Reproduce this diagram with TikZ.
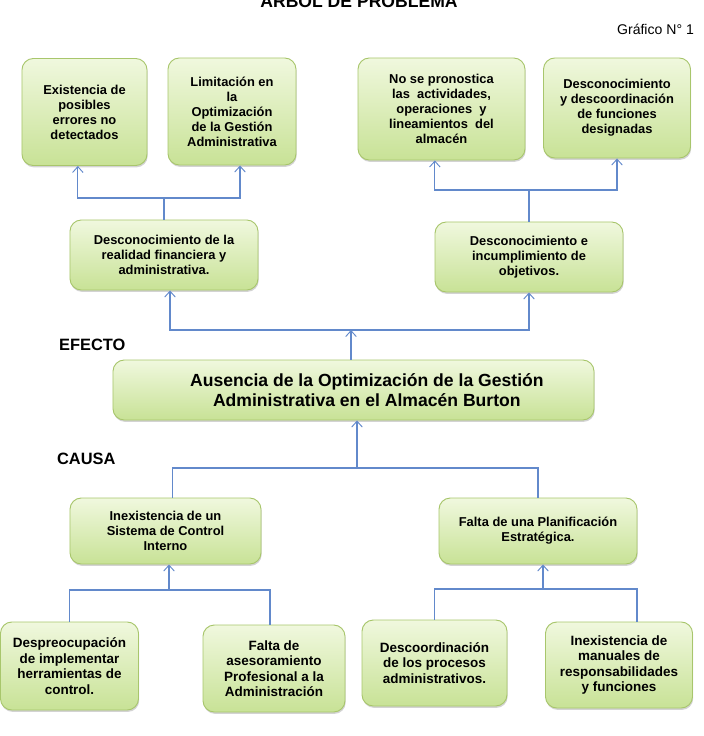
\documentclass[tikz,border=0pt]{standalone}
\usepackage{fontspec}
\setmainfont{Liberation Sans}
\definecolor{leafpale}{RGB}{240,248,222}
\definecolor{leafdeep}{RGB}{200,226,150}
\definecolor{leafedge}{RGB}{168,198,108}
\definecolor{linkblue}{RGB}{98,137,203}
\usetikzlibrary{arrows.meta, positioning, shadows}

\begin{document}
\begin{tikzpicture}[
  x=0.03cm, y=-0.03cm,
  box/.style={rectangle, rounded corners=0.34cm, align=center, draw=leafedge,
              line width=0.8pt, top color=leafpale, bottom color=leafdeep,
              drop shadow={shadow xshift=0.6pt, shadow yshift=-1.6pt, opacity=0.35},
              font=\fontsize{11}{12.8}\selectfont\bfseries, inner sep=2pt},
  rootbox/.style={box, font=\fontsize{11.5}{13.2}\selectfont\bfseries},
  link/.style={draw=linkblue, line width=0.9pt},
  arrow/.style={link, -{Straight Barb[length=5pt, width=9pt, line width=0.8pt]}},
  tag/.style={font=\fontsize{14}{16}\selectfont\bfseries, anchor=base west}
]
  \useasboundingbox (0,0) rectangle (703,736);

  % Title and figure number
  \node[font=\fontsize{15}{17}\selectfont\bfseries, anchor=base] (title)
    at (359,8) {ÁRBOL DE PROBLEMA};
  \node[font=\fontsize{12}{14}\selectfont, anchor=base east] (fig)
    at (698,35) {Gráfico N° 1};

  % Effects, top row
  \node[box, minimum width=3.75cm, minimum height=3.21cm] (ex1)
    at (84.5,112) {Existencia de\\posibles\\errores no\\detectados};
  \node[box, minimum width=3.84cm, minimum height=3.21cm] (ex2)
    at (232,111.5) {Limitación en\\la\\Optimización\\de la Gestión\\Administrativa};
  \node[box, minimum width=5.01cm, minimum height=3.06cm] (ex3)
    at (441.5,109) {No se pronostica\\las\ \ actividades,\\operaciones\ \ y\\lineamientos\ \ del\\almacén};
  \node[box, minimum width=4.41cm, minimum height=3.0cm] (ex4)
    at (617,108) {Desconocimiento\\y descoordinación\\de funciones\\designadas};

  % Effects, second row
  \node[box, minimum width=5.64cm, minimum height=2.1cm] (ef1)
    at (164,255) {Desconocimiento de la\\realidad financiera y\\administrativa.};
  \node[box, minimum width=5.64cm, minimum height=2.1cm] (ef2)
    at (529,257) {Desconocimiento e\\incumplimiento de\\objetivos.};

  % Central problem
  \node[box, font=\fontsize{15}{17.5}\selectfont\bfseries,
        minimum width=14.43cm, minimum height=1.8cm] (main)
    at (353.5,390) {\hspace{0.8cm}Ausencia de la Optimización de la Gestión\\\hspace{0.8cm}Administrativa en el Almacén Burton};

  \node[tag] (efecto) at (55,350) {EFECTO};
  \node[tag] (causa) at (53,464) {CAUSA};

  % Causes
  \node[box, minimum width=5.73cm, minimum height=1.98cm] (ca1)
    at (165.5,531) {Inexistencia de un\\Sistema de Control\\Interno};
  \node[box, minimum width=5.94cm, minimum height=1.98cm] (ca2)
    at (538,531) {Falta de una Planificación\\Estratégica.};

  % Root causes
  \node[rootbox, minimum width=4.14cm, minimum height=2.64cm] (rc1)
    at (69.5,666) {Despreocupación\\de implementar\\herramientas de\\control.};
  \node[rootbox, minimum width=4.26cm, minimum height=2.61cm] (rc2)
    at (274,668.5) {Falta de\\asesoramiento\\Profesional a la\\Administración};
  \node[rootbox, minimum width=4.35cm, minimum height=2.58cm] (rc3)
    at (434.5,663) {Descoordinación\\de los procesos\\administrativos.};
  \node[rootbox, minimum width=4.41cm, minimum height=2.58cm] (rc4)
    at (619,665) {Inexistencia de\\manuales de\\responsabilidades\\y funciones};

  % Junction points
  \coordinate (jA) at (164,198);
  \coordinate (jB) at (529,190);
  \coordinate (jC) at (351,330);
  \coordinate (jD) at (357,468);
  \coordinate (jE) at (169,590);
  \coordinate (jF) at (543,589);

  % Upper branches
  \draw[link] (ef1.north) -- (jA);
  \draw[arrow] (jA) -| ([xshift=-0.2cm]ex1.south);
  \draw[arrow] (jA) -| ([xshift=0.24cm]ex2.south);
  \draw[link] (ef2.north) -- (jB);
  \draw[arrow] (jB) -| ([xshift=-0.2cm]ex3.south);
  \draw[arrow] (jB) -| (ex4.south);

  \draw[arrow] (main.north -| jC) -- (jC);
  \draw[arrow] (jC) -| ([xshift=0.18cm]ef1.south);
  \draw[arrow] (jC) -| (ef2.south);

  % Lower branches
  \draw[arrow] (jD) -- (main.south -| jD);
  \draw[link] (jD) -| ([xshift=0.22cm]ca1.north);
  \draw[link] (jD) -| (ca2.north);

  \draw[arrow] (jE) -- (ca1.south -| jE);
  \draw[link] (jE) -| (rc1.north);
  \draw[link] (jE) -| ([xshift=-0.12cm]rc2.north);
  \draw[arrow] (jF) -- (ca2.south -| jF);
  \draw[link] (jF) -| (rc3.north);
  \draw[link] (jF) -| ([xshift=0.54cm]rc4.north);
\end{tikzpicture}
\end{document}
